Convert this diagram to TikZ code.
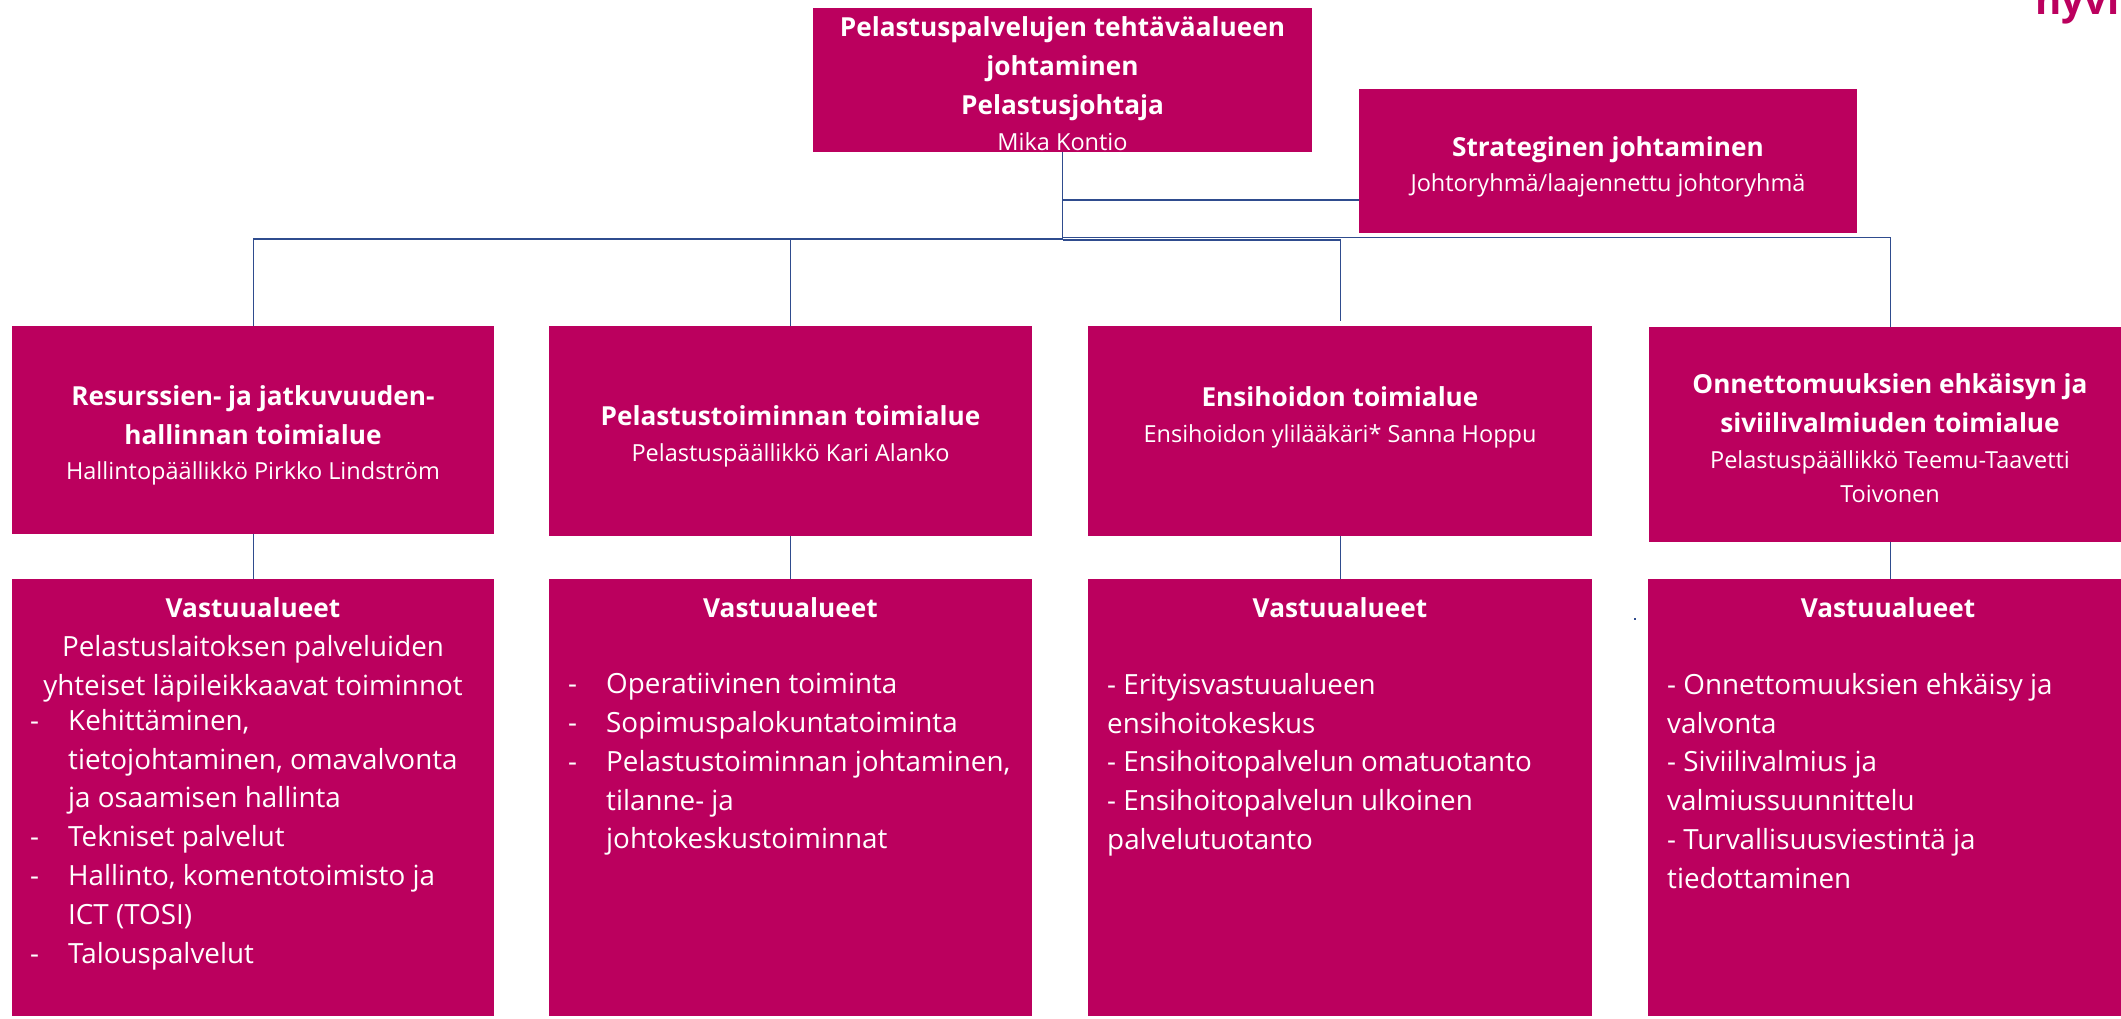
\documentclass[tikz,border=0pt]{standalone}
\usepackage{fontspec}
\setmainfont{Open Sans}
\newcommand{\skipset}{\lineskip=0pt\lineskiplimit=1000pt\relax}
\newcommand{\bigb}{\fontsize{26.2}{30}\selectfont\bfseries\skipset\rule[-11pt]{0pt}{38pt}}
\newcommand{\smallr}{\fontsize{23.5}{30}\selectfont\mdseries\skipset\rule[-9.5pt]{0pt}{33pt}}
\newcommand{\listr}{\fontsize{27.8}{38.8}\selectfont\mdseries}
\newcommand{\listc}{\fontsize{27.8}{30}\selectfont\mdseries\skipset\rule[-11pt]{0pt}{38pt}}
\newcommand{\dashi}{\makebox[38pt][l]{-}}
\newcommand{\ind}{\hspace*{38pt}}
\definecolor{mag}{HTML}{BB005E}
\definecolor{conn}{HTML}{2F4C8E}
\tikzset{
 x=1pt,y=-1pt,
 box/.style={fill=mag,draw=none,inner sep=0pt,anchor=north west},
 head/.style={text=white,align=center,inner sep=0pt,anchor=center},
 body/.style={text=white,align=left,inner sep=0pt,anchor=north west,font=\listr},
 line/.style={draw=conn,line width=1.4pt},
}
\begin{document}
\begin{tikzpicture}
\useasboundingbox (0,0) rectangle (2121,1019);
\begin{scope}
\clip (0,0) rectangle (2121,1019);
\node[text=mag,inner sep=0pt,anchor=base west,font=\fontsize{40}{40}\selectfont\bfseries] (logo) at (2035,15) {hyvi};
% boxes
\node[box,minimum width=499pt,minimum height=144pt] (top) at (813,8) {};
\node[box,minimum width=498pt,minimum height=144pt] (strat) at (1359,89) {};
\node[box,minimum width=482pt,minimum height=208pt] (a1) at (12,326) {};
\node[box,minimum width=483pt,minimum height=210pt] (a2) at (549,326) {};
\node[box,minimum width=504pt,minimum height=210pt] (a3) at (1088,326) {};
\node[box,minimum width=482pt,minimum height=215pt] (a4) at (1649,327) {};
\node[box,minimum width=482pt,minimum height=437pt] (b1) at (12,579) {};
\node[box,minimum width=483pt,minimum height=437pt] (b2) at (549,579) {};
\node[box,minimum width=504pt,minimum height=437pt] (b3) at (1088,579) {};
\node[box,minimum width=483pt,minimum height=437pt] (b4) at (1648,579) {};
% connectors
\coordinate (j) at (top.south|-0,239);
\coordinate (e3) at (a3.north|-0,321);
\coordinate (m) at (top.south|-0,200);
\draw[line] (top.south) -- (j);
\draw[line] (m) -- (strat.west|-m);
\draw[line] (j) -| (a1.north);
\draw[line] (j) -| (a2.north);
\draw[line] ([yshift=-1pt]j) -| (e3);
\draw[line] ([yshift=1.5pt]j) -| (a4.north);
\draw[line] (a1.south) -- (b1.north-|a1.south);
\draw[line] (a2.south) -- (b2.north-|a2.south);
\draw[line] (a3.south) -- (b3.north-|a3.south);
\draw[line] (a4.south) -- (b4.north-|a4.south);
% headers
\node[head] (tt) at (1062.5,85) {\bigb Pelastuspalvelujen tehtäväalueen\\\bigb johtaminen\\\bigb Pelastusjohtaja\\\smallr Mika Kontio};
\node[head] (st) at (1608,165.5) {\bigb Strateginen johtaminen\\\smallr Johtoryhmä/laajennettu johtoryhmä};
\node[head] (h1) at (253,433.5) {\bigb Resurssien- ja jatkuvuuden-\\\bigb hallinnan toimialue\\\smallr Hallintopäällikkö Pirkko Lindström};
\node[head] (h2) at (790.5,434.7) {\bigb Pelastustoiminnan toimialue\\\smallr Pelastuspäällikkö Kari Alanko};
\node[head] (h3) at (1340,415.5) {\bigb Ensihoidon toimialue\\\smallr Ensihoidon ylilääkäri* Sanna Hoppu};
\node[head] (h4) at (1890,439) {\bigb Onnettomuuksien ehkäisyn ja\\\bigb siviilivalmiuden toimialue\\\smallr Pelastuspäällikkö Teemu-Taavetti\\\smallr Toivonen};
% Vastuualueet
\node[head,anchor=north] (v1) at (253,590) {\bigb Vastuualueet\\\listc Pelastuslaitoksen palveluiden\\\listc yhteiset läpileikkaavat toiminnot};
\node[head,anchor=north] (v2) at (790.5,590) {\bigb Vastuualueet};
\node[head,anchor=north] (v3) at (1340,590) {\bigb Vastuualueet};
\node[head,anchor=north] (v4) at (1888,590) {\bigb Vastuualueet};
\node[body] (l1) at (30,709) {\dashi Kehittäminen,\\\ind tietojohtaminen, omavalvonta\\\ind ja osaamisen hallinta\\\dashi Tekniset palvelut\\\dashi Hallinto, komentotoimisto ja\\\ind ICT (TOSI)\\\dashi Talouspalvelut};
\node[body] (l2) at (568,673) {\dashi Operatiivinen toiminta\\\dashi Sopimuspalokuntatoiminta\\\dashi Pelastustoiminnan johtaminen,\\\ind tilanne- ja\\\ind johtokeskustoiminnat};
\node[body] (l3) at (1107,673) {- Erityisvastuualueen\\ensihoitokeskus\\- Ensihoitopalvelun omatuotanto\\- Ensihoitopalvelun ulkoinen\\palvelutuotanto};
\node[body] (l4) at (1667,673) {- Onnettomuuksien ehkäisy ja\\valvonta\\- Siviilivalmius ja\\valmiussuunnittelu\\- Turvallisuusviestintä ja\\tiedottaminen};
\fill[conn] (1634,618) rectangle (1636,620);
\end{scope}
\end{tikzpicture}
\end{document}
